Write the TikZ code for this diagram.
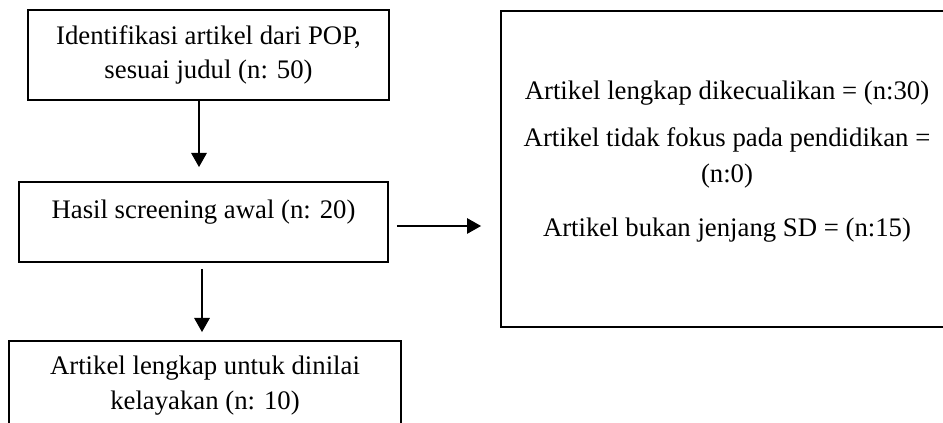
\documentclass[tikz,border=0pt]{standalone}
\usepackage{fontspec}
\setmainfont{Liberation Serif}
\usetikzlibrary{arrows.meta, calc}
\newcommand{\pxu}{0.385pt}
\tikzset{
    flowbox/.style={draw, rectangle, line width=0.75pt, inner sep=0pt, align=center, font=\fontsize{10.3}{13.2}\selectfont},
    flowtext/.style={align=center, inner sep=0pt, font=\fontsize{10.3}{13.6}\selectfont},
    flowarrow/.style={-{Triangle[length=5.4pt, width=6pt]}, line width=0.4pt},
}

\begin{document}
\begin{tikzpicture}[x=\pxu, y=-\pxu]
    \useasboundingbox (0,0) rectangle (943,423);
    \clip (0,0) rectangle (943,423);
    \node[flowbox, minimum width=361*\pxu, minimum height=90*\pxu] (ident) at (208.5,55) {Identifikasi artikel dari POP,\\ sesuai judul (n: 50)};
    \node[flowbox, minimum width=369*\pxu, minimum height=80*\pxu] (screen) at (203.5,222) {};
    \node[flowtext] (screentext) at (203.5,212) {Hasil screening awal (n: 20)};
    \node[flowbox, minimum width=392*\pxu, minimum height=89*\pxu] (full) at (205,385.5) {Artikel lengkap untuk dinilai\\ kelayakan (n: 10)};
    \node[flowbox, minimum width=452*\pxu, minimum height=316*\pxu] (excl) at (727,169) {};
    \node[flowtext] (excltext) at (727,162) {Artikel lengkap dikecualikan = (n:30)\\[4.5pt] Artikel tidak fokus pada pendidikan =\\ (n:0)\\[7.5pt] Artikel bukan jenjang SD = (n:15)};

    \draw[flowarrow] ($(ident.south)+(-9.5,0)$) -- ($(screen.north)+(-4.5,-14)$);
    \draw[flowarrow] ($(screen.south)+(-1.5,6)$) -- ($(full.north)+(-3,-8)$);
    \draw[flowarrow] ($(screen.east)+(8,4)$) -- ($(screen.east -| excl.west)+(-19,4)$);
\end{tikzpicture}
\end{document}
